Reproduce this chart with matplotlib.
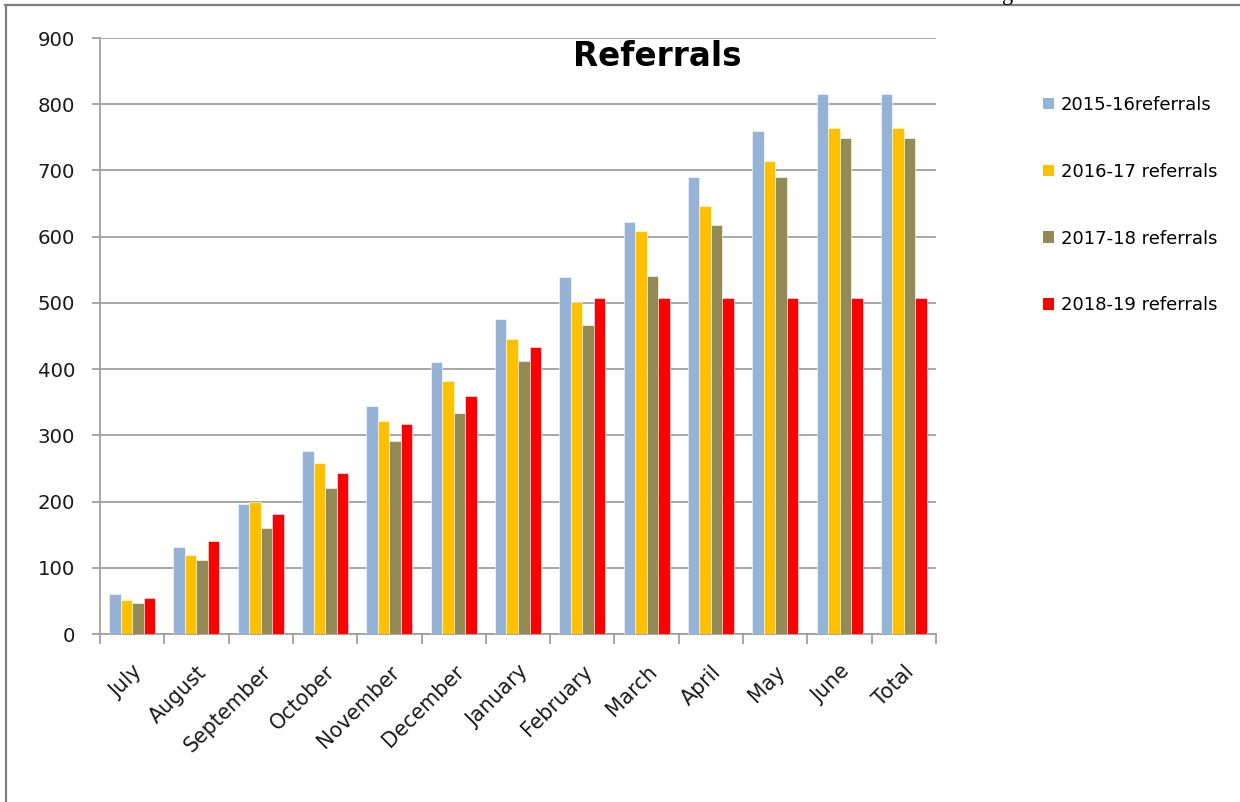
import matplotlib
matplotlib.use("Agg")
import matplotlib.pyplot as plt
import numpy as np
from matplotlib.lines import Line2D
from matplotlib.patches import Patch
from matplotlib.transforms import ScaledTranslation

plt.rcParams['font.family'] = ['DejaVu Sans']

categories = ["July", "August", "September", "October", "November", "December",
              "January", "February", "March", "April", "May", "June", "Total"]
series_names = ["2015-16referrals", "2016-17 referrals", "2017-18 referrals", "2018-19 referrals"]
s2015 = [61, 132, 196, 277, 345, 411, 475, 539, 622, 690, 760, 816, 816]
s2016 = [52, 119, 200, 258, 322, 382, 446, 502, 609, 647, 714, 764, 764]
s2017 = [47, 111, 160, 221, 291, 334, 413, 467, 541, 618, 690, 749, 749]
s2018 = [55, 141, 181, 243, 317, 359, 434, 508, 508, 508, 508, 508, 508]
colors = ["#95B3D7", "#FFC000", "#948A54", "#FF0000"]
yticks = [0, 100, 200, 300, 400, 500, 600, 700, 800, 900]

W, H = 1240, 802
fig = plt.figure(figsize=(W / 100, H / 100), dpi=100)
ax = fig.add_axes([100 / W, 1 - 634 / H, (936 - 100) / W, (634 - 38) / H])

x = np.arange(len(categories))
bw = 0.179
allseries = [s2015, s2016, s2017, s2018]
for i, (vals, c, name) in enumerate(zip(allseries, colors, series_names)):
    ax.bar(x + (i - 1.5) * bw, vals, width=bw, color=c, edgecolor='white',
           linewidth=0.4, label=name, zorder=3)

ax.set_xlim(-0.5, len(categories) - 0.5)
ax.set_ylim(0, 900)
ax.set_yticks(yticks)
ax.set_yticklabels([str(v) for v in yticks], fontsize=14.2, color='#1a1a1a')
ax.yaxis.grid(True, color='#a0a0a0', linewidth=1.3, zorder=0)
ax.set_axisbelow(True)

ax.set_xticks(np.arange(len(categories) + 1) - 0.5, minor=False)
ax.set_xticklabels([])
ax.set_xticks(x, minor=True)
labels = ax.set_xticklabels(categories, minor=True, rotation=45, ha='right',
                            rotation_mode='anchor', fontsize=14.8, color='#1a1a1a')
shift = ScaledTranslation(-7 / 100, 0, fig.dpi_scale_trans)
for lab in labels:
    lab.set_transform(lab.get_transform() + shift)
ax.tick_params(axis='x', which='minor', length=0, pad=20)
ax.tick_params(axis='x', which='major', length=7, width=1.3, color='#a0a0a0', direction='out')
ax.tick_params(axis='y', length=6, width=1.3, color='#a0a0a0', pad=12)

for s in ['top', 'right']:
    ax.spines[s].set_visible(False)
for s in ['left', 'bottom']:
    ax.spines[s].set_color('#a0a0a0')
    ax.spines[s].set_linewidth(1.3)

fig.text(657 / W, 1 - 66 / H, "Referrals", fontsize=23.5, fontweight='bold',
         ha='center', va='baseline', color='black')

handles = [Patch(facecolor=c, edgecolor='none') for c in colors]
fig.legend(handles, series_names, loc='upper left',
           bbox_to_anchor=(1043 / W, 1 - 96 / H), frameon=False, fontsize=13,
           handlelength=0.6, handleheight=0.6, handletextpad=0.38,
           labelspacing=2.70, borderpad=0, borderaxespad=0)

# outer frame lines
fig.add_artist(Line2D([5 / W, 1.0], [1 - 5 / H, 1 - 5 / H], color='#7f7f7f', linewidth=1.6))
fig.add_artist(Line2D([6 / W, 6 / W], [0, 1 - 5 / H], color='#7f7f7f', linewidth=1.6))
fig.text(1008 / W, 1.0, "g", fontsize=16, family='Liberation Serif',
         ha='center', va='baseline', color='black')

fig.savefig("out.png", dpi=100)
